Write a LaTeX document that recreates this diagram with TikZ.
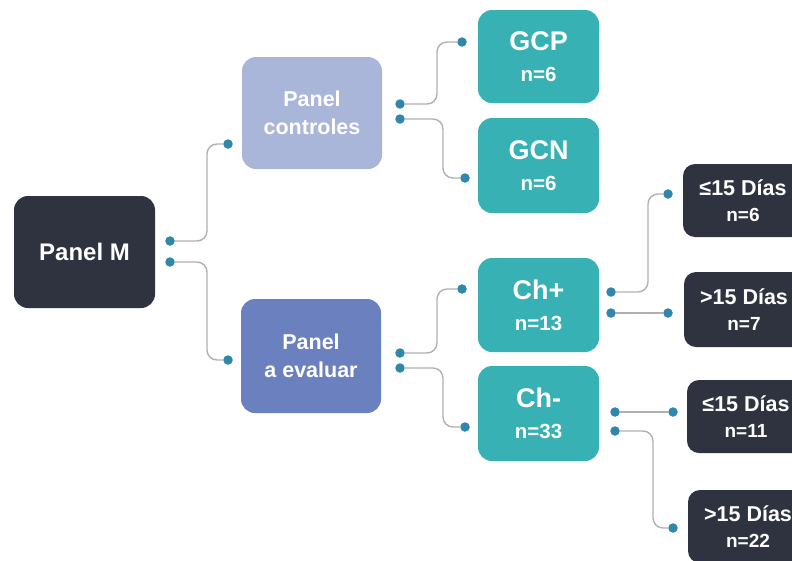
\documentclass[tikz,border=0pt]{standalone}
\usepackage{fontspec}
\setmainfont{Liberation Sans}
\definecolor{darkbox}{HTML}{2F333F}
\definecolor{tealbox}{HTML}{37B1B3}
\definecolor{lightbox}{HTML}{A9B5D9}
\definecolor{midbox}{HTML}{6B81BF}
\definecolor{dotc}{HTML}{2F87A9}
\definecolor{linec}{HTML}{B0B0B0}
\newcommand\bigline[1]{{\fontsize{27}{32}\selectfont #1}}
\newcommand\dayline[1]{{\fontsize{21.5}{26}\selectfont #1}}
\tikzset{
  box/.style={rounded corners=14pt, inner sep=0pt, align=center, text=white},
  daybox/.style={box, rounded corners=12pt, fill=darkbox, dayfont},
  panelfont/.style={font=\bfseries\fontsize{21.5}{28}\selectfont},
  countfont/.style={font=\bfseries\fontsize{20.5}{31}\selectfont},
  dayfont/.style={font=\bfseries\fontsize{19}{26}\selectfont},
  dot/.style={circle, fill=dotc, inner sep=0pt, minimum size=9.5pt},
  link/.style={draw=linec, line width=1.4pt, rounded corners=10pt}
}
\begin{document}
\begin{tikzpicture}[x=1pt, y=-1pt]
\useasboundingbox (0,0) rectangle (792,560);
\clip (0,0) rectangle (792,560);

% main panel
\node[box, fill=darkbox, minimum width=141pt, minimum height=112pt,
      font=\bfseries\fontsize{24}{28}\selectfont] (pm) at (84.5,252) {Panel M};

% second level
\node[box, fill=lightbox, minimum width=140pt, minimum height=112pt, panelfont] (pc) at (312,113) {Panel\\controles};
\node[box, fill=midbox, minimum width=140pt, minimum height=114pt, panelfont] (pe) at (311,356) {Panel\\a evaluar};

% groups
\node[box, fill=tealbox, minimum width=121pt, minimum height=93pt, countfont] (gcp) at (538.5,56.5) {\bigline{GCP}\\n=6};
\node[box, fill=tealbox, minimum width=121pt, minimum height=95pt, countfont] (gcn) at (538.5,165.5) {\bigline{GCN}\\n=6};
\node[box, fill=tealbox, minimum width=121pt, minimum height=94pt, countfont] (chp) at (538.5,305) {\bigline{Ch+}\\n=13};
\node[box, fill=tealbox, minimum width=121pt, minimum height=95pt, countfont] (chm) at (538.5,413.5) {\bigline{Ch-}\\n=33};

% day groups
\node[daybox, minimum width=120pt, minimum height=73pt] (d1) at (743,200.5) {\dayline{≤15 Días}\\n=6};
\node[daybox, minimum width=120pt, minimum height=75pt] (d2) at (744,309.5) {\dayline{>15 Días}\\n=7};
\node[daybox, minimum width=118pt, minimum height=73pt] (d3) at (746,416.5) {\dayline{≤15 Días}\\n=11};
\node[daybox, minimum width=120pt, minimum height=73pt] (d4) at (748,526.5) {\dayline{>15 Días}\\n=22};

% connector dots
\node[dot] (pm1) at (170,241) {};
\node[dot] (pm2) at (170,262) {};
\node[dot] (pcin) at (228,144) {};
\node[dot] (pein) at (228,360) {};
\node[dot] (pc1) at (400,104) {};
\node[dot] (pc2) at (400,119) {};
\node[dot] (gcpin) at (462,42) {};
\node[dot] (gcnin) at (465,178) {};
\node[dot] (pe1) at (400,353) {};
\node[dot] (pe2) at (400,368) {};
\node[dot] (chpin) at (462,289) {};
\node[dot] (chmin) at (465,427) {};
\node[dot] (chp1) at (611,292) {};
\node[dot] (chp2) at (611,313) {};
\node[dot] (d1in) at (668,194) {};
\node[dot] (d2in) at (668,313) {};
\node[dot] (chm1) at (615,412) {};
\node[dot] (chm2) at (615,431) {};
\node[dot] (d3in) at (673,412) {};
\node[dot] (d4in) at (673,528) {};

% connectors
\draw[link] (pm1) -| (207,200) |- (pcin);
\draw[link] (pm2) -| (207,300) |- (pein);
\draw[link] (pc1) -| (437,70) |- (gcpin);
\draw[link] (pc2) -| (443,150) |- (gcnin);
\draw[link] (pe1) -| (437,320) |- (chpin);
\draw[link] (pe2) -| (443,400) |- (chmin);
\draw[link] (chp1) -| (648,240) |- (d1in);
\draw[link] (chp2) -- (d2in);
\draw[link] (chm1) -- (d3in);
\draw[link] (chm2) -| (653,480) |- (d4in);
\end{tikzpicture}
\end{document}
